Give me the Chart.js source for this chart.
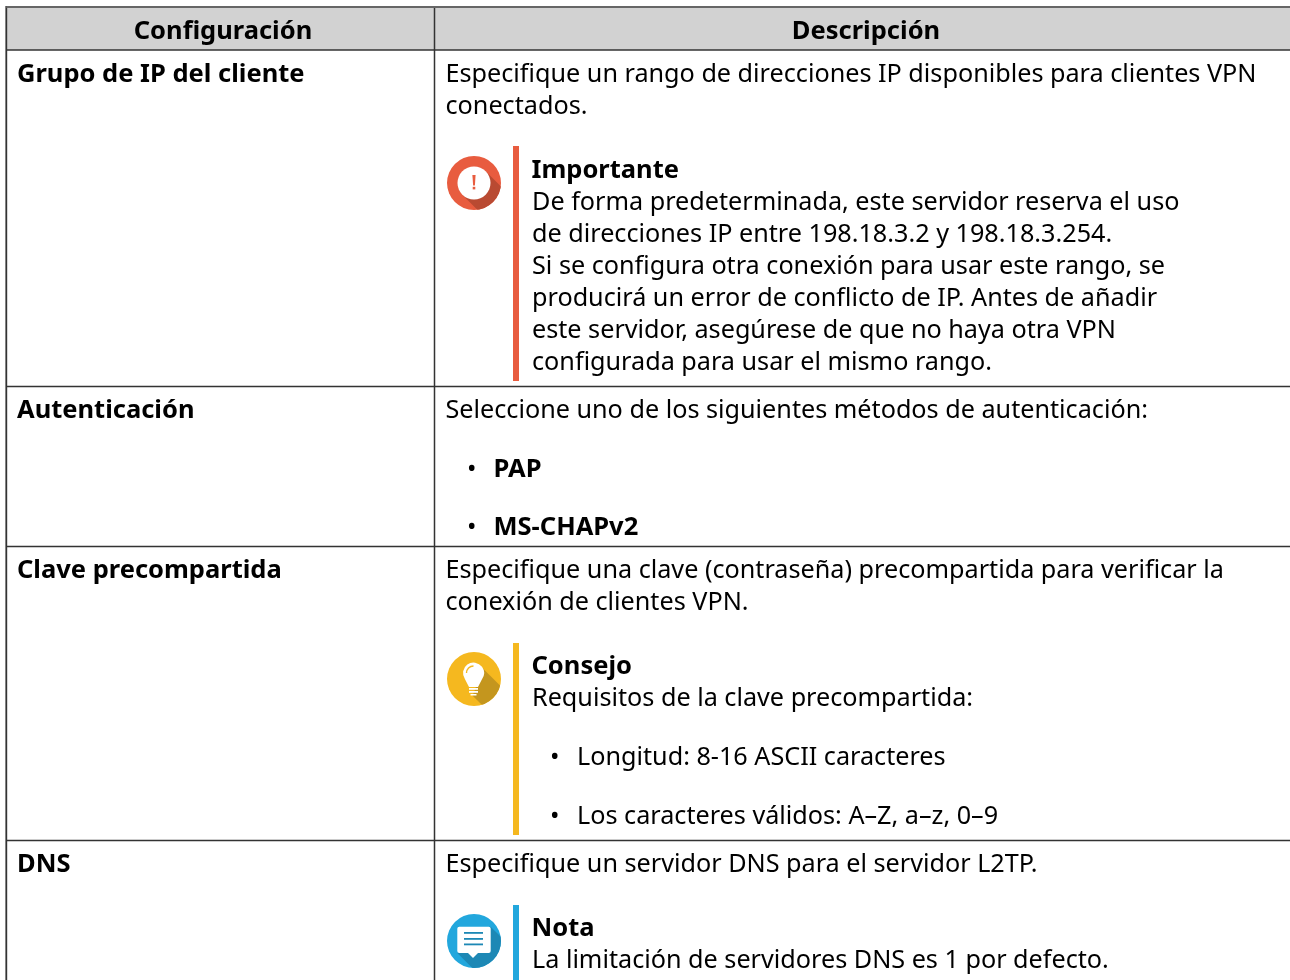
<!DOCTYPE html>
<html>
<head>
<meta charset="utf-8">
<title>Configuración L2TP</title>
<script src="https://cdn.jsdelivr.net/npm/chart.js@4"></script>
<style>
  html, body { margin: 0; padding: 0; background: #fff; }
  canvas { display: block; }
</style>
</head>
<body>
<canvas id="tableChart" width="1290" height="980"></canvas>
<script>
// ─── TEXT
const headerLabels = ["Configuración", "Descripción"];
const settingLabels = ["Grupo de IP del cliente", "Autenticación", "Clave precompartida", "DNS"];
const ipPoolLines = ["Especifique un rango de direcciones IP disponibles para clientes VPN", "conectados."];
const importantLines = [
  "De forma predeterminada, este servidor reserva el uso",
  "de direcciones IP entre 198.18.3.2 y 198.18.3.254.",
  "Si se configura otra conexión para usar este rango, se",
  "producirá un error de conflicto de IP. Antes de añadir",
  "este servidor, asegúrese de que no haya otra VPN",
  "configurada para usar el mismo rango."
];
const authLines = ["Seleccione uno de los siguientes métodos de autenticación:"];
const authMethods = ["PAP", "MS-CHAPv2"];
const pskLines = ["Especifique una clave (contraseña) precompartida para verificar la", "conexión de clientes VPN."];
const tipLines = ["Requisitos de la clave precompartida:"];
const tipBullets = ["Longitud: 8-16 ASCII caracteres", "Los caracteres válidos: A–Z, a–z, 0–9"];
const dnsLines = ["Especifique un servidor DNS para el servidor L2TP."];
const noteLines = ["La limitación de servidores DNS es 1 por defecto."];
const calloutTitles = ["Importante", "Consejo", "Nota"];

// ─── TABLE GEOMETRY (in axis units, which are page pixels)
const rowEdges = [7, 50, 386.5, 546.5, 840.5];
const colEdges = [6.3, 434.5];
const tableRight = 1290;
const tableBottom = 980;
const calloutColors = ["#e85c3f", "#f5b81f", "#22a7dd"];
const calloutShadows = ["#b94a32", "#c4961e", "#1d88b5"];
const calloutSpans = [[146, 381], [643, 835], [905, 980]];
const iconY = [183, 679, 941];
// where the diagonal shadow leaves each glyph, relative to the icon centre
const shadowEdges = [
  [[11.7, -11.7], [-11.7, 11.7]],
  [[8.7, -10.7], [-1.3, 16.7]],
  [[16.7, -14.3], [-16.7, 12]]
];

const BODY_FONT = '25.2px "Noto Sans"';
const BOLD_FONT = 'bold 25.5px "Noto Sans"';
const RULE = "#333";

// text blocks: lines, font, left edge, first baseline, line step
const textBlocks = [
  { lines: settingLabels.slice(0, 1), font: BOLD_FONT, x: 17, y: 82, step: 0 },
  { lines: settingLabels.slice(1, 2), font: BOLD_FONT, x: 17, y: 418, step: 0 },
  { lines: settingLabels.slice(2, 3), font: BOLD_FONT, x: 17, y: 578, step: 0 },
  { lines: settingLabels.slice(3, 4), font: BOLD_FONT, x: 17, y: 872, step: 0 },
  { lines: ipPoolLines, font: BODY_FONT, x: 445.5, y: 82, step: 32 },
  { lines: calloutTitles.slice(0, 1), font: BOLD_FONT, x: 531.5, y: 178, step: 0 },
  { lines: importantLines, font: BODY_FONT, x: 532, y: 210, step: 32 },
  { lines: authLines, font: BODY_FONT, x: 445.5, y: 418, step: 0 },
  { lines: authMethods, font: BOLD_FONT, x: 493.5, y: 477, step: 58 },
  { lines: ["•", "•"], font: BODY_FONT, x: 467, y: 477, step: 58 },
  { lines: pskLines, font: BODY_FONT, x: 445.5, y: 578, step: 32 },
  { lines: calloutTitles.slice(1, 2), font: BOLD_FONT, x: 531.5, y: 674, step: 0 },
  { lines: tipLines, font: BODY_FONT, x: 532, y: 706, step: 0 },
  { lines: tipBullets, font: BODY_FONT, x: 577, y: 765, step: 59 },
  { lines: ["•", "•"], font: BODY_FONT, x: 550, y: 765, step: 59 },
  { lines: dnsLines, font: BODY_FONT, x: 445.5, y: 872, step: 0 },
  { lines: calloutTitles.slice(2, 3), font: BOLD_FONT, x: 531.5, y: 936, step: 0 },
  { lines: noteLines, font: BODY_FONT, x: 532, y: 968, step: 0 }
];

function rule(points, color, width) {
  return { data: points, showLine: true, borderColor: color, borderWidth: width, pointRadius: 0, borderCapStyle: "butt", clip: false };
}

const datasets = [];
rowEdges.forEach((y, i) => datasets.push(rule([{ x: colEdges[0], y }, { x: tableRight, y }], i === 0 ? "#666" : RULE, i === 0 ? 2 : 1.5)));
colEdges.forEach((x, i) => datasets.push(rule([{ x, y: rowEdges[0] - 1 }, { x, y: tableBottom }], RULE, i === 0 ? 1.8 : 1.5)));
calloutSpans.forEach((span, i) => datasets.push(rule([{ x: 516, y: span[0] }, { x: 516, y: span[1] }], calloutColors[i], 6)));
datasets.push({
  data: iconY.map(y => ({ x: 474, y })),
  pointRadius: 27,
  pointBackgroundColor: calloutColors,
  pointBorderWidth: 0,
  clip: false
});

// ─── PLUGINS
function shadowAndGlyph(ctx, px, py, i) {
  const R = 27;
  const [a, b] = shadowEdges[i];
  ctx.save();
  ctx.beginPath();
  ctx.arc(px, py, R, 0, Math.PI * 2);
  ctx.clip();
  ctx.fillStyle = calloutShadows[i];
  ctx.beginPath();
  ctx.moveTo(px + a[0], py + a[1]);
  ctx.lineTo(px + a[0] + 50, py + a[1] + 50);
  ctx.lineTo(px + b[0] + 50, py + b[1] + 50);
  ctx.lineTo(px + b[0], py + b[1]);
  ctx.closePath();
  ctx.fill();
  ctx.restore();

  ctx.fillStyle = "#fff";
  ctx.strokeStyle = calloutColors[i];
  if (i === 0) {
    ctx.beginPath();
    ctx.arc(px, py, 16.5, 0, Math.PI * 2);
    ctx.fill();
    ctx.fillStyle = calloutColors[0];
    ctx.beginPath();
    ctx.moveTo(px - 1.6, py - 8);
    ctx.lineTo(px + 1.6, py - 8);
    ctx.lineTo(px + 0.9, py + 2.5);
    ctx.lineTo(px - 0.9, py + 2.5);
    ctx.closePath();
    ctx.fill();
    ctx.fillRect(px - 1.3, py + 3.8, 2.6, 2.6);
  } else if (i === 1) {
    const bx = px - 0.5;
    const cy = py - 6;
    ctx.beginPath();
    ctx.arc(bx, cy, 10.5, Math.PI * 0.8, Math.PI * 0.2);
    ctx.lineTo(bx + 4.5, py + 8);
    ctx.lineTo(bx - 4.5, py + 8);
    ctx.closePath();
    ctx.fill();
    ctx.fillRect(bx - 4.5, py + 9, 9, 1.8);
    ctx.fillRect(bx - 4.5, py + 12, 9, 1.8);
    ctx.fillRect(bx - 3, py + 15, 6, 1.5);
    ctx.lineWidth = 1.4;
    ctx.beginPath();
    ctx.arc(bx, cy, 7, Math.PI, Math.PI * 1.5);
    ctx.stroke();
  } else {
    ctx.beginPath();
    ctx.roundRect(px - 16.7, py - 14.3, 33.4, 26.3, 2);
    ctx.fill();
    ctx.beginPath();
    ctx.moveTo(px - 6, py + 12);
    ctx.lineTo(px - 1, py + 17);
    ctx.lineTo(px + 4, py + 12);
    ctx.closePath();
    ctx.fill();
    ctx.fillStyle = "#1d88b5";
    [-9, -3, 2.5].forEach(o => ctx.fillRect(px - 10, py + o, 19, 1.8));
  }
}

const tablePlugin = {
  id: "tablePlugin",
  beforeDatasetsDraw(chart) {
    const { ctx, scales: { x, y } } = chart;
    ctx.save();
    ctx.fillStyle = "#d2d2d2";
    ctx.fillRect(x.getPixelForValue(colEdges[0]), y.getPixelForValue(rowEdges[0]),
      x.getPixelForValue(tableRight) - x.getPixelForValue(colEdges[0]),
      y.getPixelForValue(rowEdges[1]) - y.getPixelForValue(rowEdges[0]));
    ctx.restore();
  },
  afterDatasetsDraw(chart) {
    const { ctx, scales: { x, y } } = chart;
    ctx.save();
    iconY.forEach((v, i) => shadowAndGlyph(ctx, x.getPixelForValue(474), y.getPixelForValue(v), i));

    ctx.fillStyle = "#000";
    ctx.textBaseline = "alphabetic";
    ctx.font = BOLD_FONT;
    ctx.textAlign = "center";
    ctx.fillText(headerLabels[0], x.getPixelForValue(223), y.getPixelForValue(39));
    ctx.fillText(headerLabels[1], x.getPixelForValue(866), y.getPixelForValue(39));
    ctx.textAlign = "left";
    textBlocks.forEach(b => {
      ctx.font = b.font;
      b.lines.forEach((line, i) => ctx.fillText(line, x.getPixelForValue(b.x), y.getPixelForValue(b.y + i * b.step)));
    });
    ctx.restore();
  }
};

new Chart(document.getElementById("tableChart"), {
  type: "scatter",
  data: { datasets },
  plugins: [tablePlugin],
  options: {
    responsive: false,
    animation: false,
    layout: { padding: 0, autoPadding: false },
    plugins: { legend: { display: false }, tooltip: { enabled: false } },
    scales: {
      x: { type: "linear", min: 0, max: 1290, display: false },
      y: { type: "linear", min: 0, max: 980, reverse: true, display: false }
    }
  }
});
</script>
</body>
</html>
